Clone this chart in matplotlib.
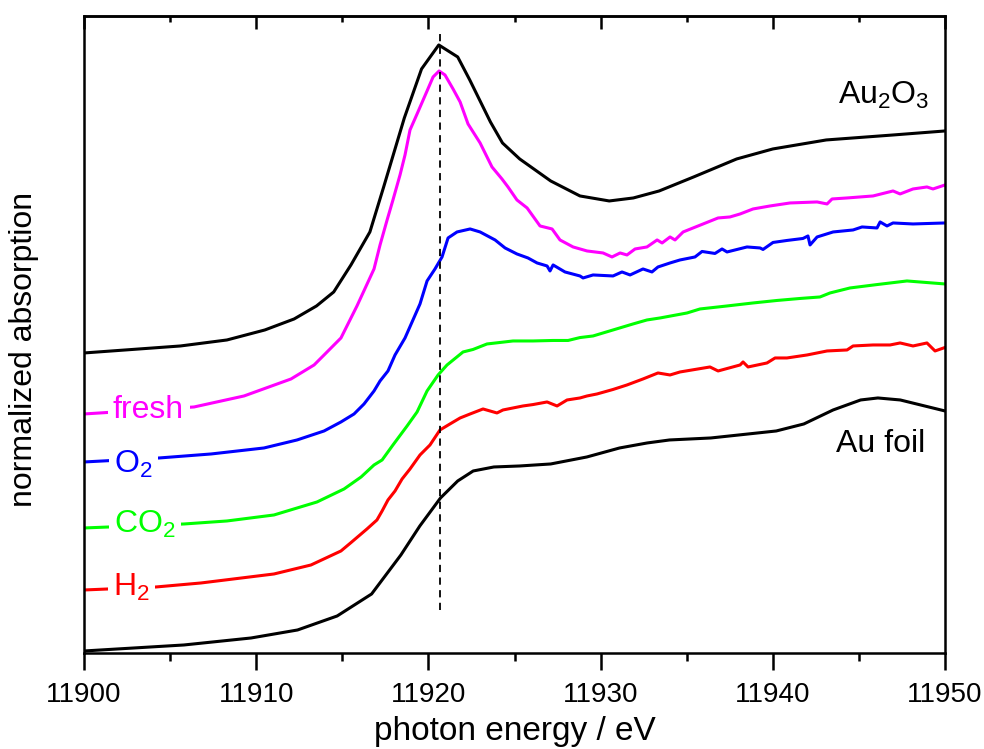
import matplotlib
matplotlib.use("Agg")
import matplotlib.pyplot as plt
from matplotlib.ticker import MultipleLocator

plt.rcParams['font.family'] = ['Liberation Sans', 'DejaVu Sans']
plt.rcParams['mathtext.fontset'] = 'custom'
plt.rcParams['mathtext.rm'] = 'Liberation Sans'
plt.rcParams['mathtext.it'] = 'Liberation Sans'
plt.rcParams['mathtext.default'] = 'regular'

# Au L3-edge XANES, stacked (vertically offset)
e_au2o3 = [11900.0, 11905.6, 11908.3, 11910.5, 11912.2, 11913.5, 11914.5, 11915.5, 11916.6,
           11917.4, 11918.6, 11919.6, 11920.6, 11921.7, 11922.4, 11923.6, 11924.3, 11925.3,
           11927.1, 11928.8, 11930.5, 11931.9, 11933.4, 11935.4, 11937.9, 11940.0, 11943.1,
           11947.0, 11950.0]
mu_au2o3 = [3.00, 3.07, 3.13, 3.23, 3.34, 3.47, 3.61, 3.88, 4.21,
            4.66, 5.35, 5.84, 6.08, 5.96, 5.73, 5.31, 5.10, 4.94,
            4.72, 4.57, 4.52, 4.55, 4.62, 4.76, 4.94, 5.04, 5.13,
            5.18, 5.22]

e_foil = [11900.0, 11905.8, 11909.7, 11912.4, 11914.7, 11916.7, 11918.4, 11919.5, 11920.7,
          11921.7, 11922.6, 11923.8, 11925.3, 11927.1, 11929.2, 11931.1, 11932.7, 11934.0,
          11936.4, 11940.2, 11941.8, 11943.5, 11945.1, 11946.1, 11947.4, 11950.0]
mu_foil = [0.02, 0.08, 0.15, 0.23, 0.37, 0.59, 0.98, 1.27, 1.55,
           1.72, 1.82, 1.86, 1.87, 1.89, 1.96, 2.05, 2.10, 2.13,
           2.15, 2.22, 2.29, 2.43, 2.53, 2.55, 2.53, 2.42]

e_fresh = [11900.0, 11906.39, 11909.29, 11912.02, 11913.36, 11913.94, 11914.92, 11915.85,
           11916.84, 11917.19, 11917.60, 11917.94, 11918.35, 11918.64, 11918.93, 11919.34,
           11919.92, 11920.27, 11920.62, 11920.96, 11921.43, 11921.84, 11922.30, 11923.00,
           11923.69, 11924.27, 11924.62, 11925.14, 11925.73, 11926.48, 11927.18, 11927.64,
           11928.40, 11929.21, 11930.14, 11930.66, 11931.13, 11931.53, 11932.00, 11932.69,
           11933.28, 11933.57, 11934.03, 11934.32, 11934.79, 11935.95, 11936.82, 11937.51,
           11938.10, 11938.85, 11939.84, 11941.00, 11942.57, 11943.15, 11943.44, 11944.31,
           11945.82, 11946.98, 11947.39, 11948.14, 11948.95, 11949.30, 11950.00]
mu_fresh = [2.39, 2.46, 2.57, 2.74, 2.88, 2.98, 3.15, 3.47,
            3.84, 4.08, 4.33, 4.53, 4.78, 4.98, 5.23, 5.39,
            5.62, 5.76, 5.82, 5.78, 5.64, 5.51, 5.29, 5.10,
            4.86, 4.74, 4.66, 4.53, 4.45, 4.27, 4.24, 4.13,
            4.06, 4.02, 4.00, 3.96, 4.00, 3.98, 4.04, 4.06,
            4.13, 4.10, 4.16, 4.13, 4.21, 4.29, 4.35, 4.36,
            4.39, 4.44, 4.47, 4.50, 4.51, 4.49, 4.54, 4.55,
            4.57, 4.62, 4.59, 4.64, 4.66, 4.64, 4.68]

e_o2 = [11900.0, 11904.36, 11907.38, 11910.45, 11912.37, 11913.94, 11914.92, 11915.68,
        11916.26, 11916.84, 11917.19, 11917.65, 11918.06, 11918.64, 11919.05, 11919.51,
        11919.92, 11920.38, 11920.79, 11921.14, 11921.66, 11922.42, 11923.00, 11923.87,
        11924.45, 11925.14, 11925.78, 11926.31, 11926.89, 11927.06, 11927.24, 11927.93,
        11928.80, 11928.98, 11929.56, 11930.72, 11931.24, 11931.71, 11932.46, 11932.98,
        11933.33, 11934.03, 11934.61, 11935.48, 11935.89, 11936.64, 11937.05, 11937.34,
        11938.50, 11939.26, 11939.43, 11940.01, 11940.82, 11941.75, 11942.04, 11942.16,
        11942.57, 11943.50, 11944.66, 11945.18, 11946.05, 11946.23, 11946.63, 11946.98,
        11948.14, 11950.00]
mu_o2 = [1.91, 1.95, 1.99, 2.05, 2.13, 2.22, 2.31, 2.39,
         2.49, 2.62, 2.72, 2.82, 2.98, 3.15, 3.31, 3.49,
         3.72, 3.84, 3.96, 4.15, 4.21, 4.24, 4.21, 4.13,
         4.05, 3.99, 3.95, 3.90, 3.87, 3.82, 3.88, 3.81,
         3.77, 3.75, 3.78, 3.77, 3.81, 3.78, 3.84, 3.81,
         3.86, 3.90, 3.93, 3.96, 4.015, 3.995, 4.04, 4.01,
         4.06, 4.05, 4.035, 4.105, 4.125, 4.145, 4.17, 4.08,
         4.16, 4.21, 4.23, 4.26, 4.25, 4.31, 4.27, 4.30,
         4.29, 4.30]

e_co2 = [11900.0, 11905.81, 11908.30, 11911.03, 11913.53, 11915.10, 11916.09, 11916.84,
         11917.31, 11917.94, 11918.76, 11919.34, 11919.92, 11920.56, 11921.08, 11922.01,
         11922.59, 11923.40, 11924.16, 11924.91, 11926.07, 11927.24, 11928.11, 11928.80,
         11929.56, 11930.72, 11931.88, 11932.69, 11933.45, 11935.02, 11935.77, 11937.34,
         11938.85, 11940.24, 11941.58, 11942.74, 11943.32, 11944.48, 11946.05, 11947.79,
         11950.00]
mu_co2 = [1.25, 1.29, 1.32, 1.38, 1.51, 1.64, 1.76, 1.88,
          1.93, 2.08, 2.27, 2.41, 2.62, 2.78, 2.88, 3.01,
          3.035, 3.09, 3.105, 3.12, 3.12, 3.125, 3.125, 3.154,
          3.17, 3.23, 3.29, 3.33, 3.35, 3.40, 3.44, 3.47,
          3.50, 3.525, 3.545, 3.56, 3.60, 3.65, 3.684, 3.72,
          3.69]

e_h2 = [11900.0, 11904.18, 11906.79, 11911.03, 11913.18, 11914.92, 11915.51, 11916.43,
        11917.01, 11917.31, 11917.65, 11918.06, 11918.47, 11918.93, 11919.51, 11920.09,
        11920.67, 11921.25, 11921.84, 11922.42, 11923.17, 11923.98, 11924.33, 11924.91,
        11925.49, 11926.07, 11926.89, 11927.47, 11928.05, 11928.80, 11929.21, 11929.79,
        11930.72, 11931.53, 11932.46, 11933.33, 11934.03, 11934.61, 11936.35, 11936.82,
        11938.10, 11938.27, 11938.56, 11939.66, 11940.13, 11940.82, 11941.99, 11943.15,
        11944.31, 11944.66, 11945.82, 11946.81, 11947.39, 11948.14, 11948.95, 11949.42,
        11950.00]
mu_h2 = [0.63, 0.66, 0.70, 0.79, 0.88, 1.02, 1.105, 1.24,
         1.33, 1.42, 1.53, 1.62, 1.74, 1.84, 1.98, 2.08,
         2.23, 2.29, 2.35, 2.39, 2.44, 2.40, 2.43, 2.45,
         2.47, 2.484, 2.51, 2.47, 2.53, 2.55, 2.57, 2.59,
         2.635, 2.68, 2.74, 2.80, 2.78, 2.81, 2.86, 2.82,
         2.88, 2.91, 2.86, 2.90, 2.95, 2.95, 2.98, 3.02,
         3.03, 3.07, 3.08, 3.08, 3.10, 3.07, 3.10, 3.02,
         3.055]

e_white_line = 11920.7

fig = plt.figure(figsize=(9.84, 7.49), dpi=100)
ax = fig.add_axes([0.0854, 0.1282, 0.875, 0.8505])

lw = 2.2
ax.plot(e_au2o3, mu_au2o3, color='black', lw=lw, zorder=2)
ax.plot(e_fresh, mu_fresh, color='#ff00ff', lw=lw, zorder=2)
ax.plot(e_o2, mu_o2, color='#0000ff', lw=lw, zorder=2)
ax.plot(e_co2, mu_co2, color='#00ff00', lw=lw, zorder=2)
ax.plot(e_h2, mu_h2, color='#ff0000', lw=lw, zorder=2)
ax.plot(e_foil, mu_foil, color='black', lw=lw, zorder=2)

ax.vlines(e_white_line, 0.43, 6.21, colors='black', lw=1.3,
          linestyles=(0, (4, 3)), zorder=3)

# sample labels sit on a white patch that breaks the curve
box = dict(facecolor='white', edgecolor='none', pad=4)
fs = 23
ax.text(11901.68, 2.35, 'fresh', color='#ff00ff', fontsize=fs, bbox=box, zorder=4)
ax.text(11901.74, 1.80, 'O$_2$', color='#0000ff', fontsize=fs, bbox=box, zorder=4)
ax.text(11901.74, 1.20, 'CO$_2$', color='#00ff00', fontsize=fs, bbox=box, zorder=4)
ax.text(11901.68, 0.57, 'H$_2$', color='#ff0000', fontsize=fs, bbox=box, zorder=4)
ax.text(11943.79, 5.49, 'Au$_2$O$_3$', color='black', fontsize=fs, zorder=4)
ax.text(11943.67, 2.01, 'Au foil', color='black', fontsize=fs, zorder=4)

ax.set_xlim(11900, 11950)
ax.set_ylim(0, 6.37)
ax.set_yticks([])

# top axis: ticks pointing in, no labels
top = ax.secondary_xaxis('top')
top.xaxis.set_major_locator(MultipleLocator(10))
top.xaxis.set_minor_locator(MultipleLocator(5))
top.tick_params(which='major', direction='in', length=9, width=1.8, labeltop=False)
top.tick_params(which='minor', direction='in', length=4.5, width=1.8)
top.spines['top'].set_linewidth(1.8)

ax.xaxis.set_ticks_position('bottom')
ax.xaxis.set_major_locator(MultipleLocator(10))
ax.xaxis.set_minor_locator(MultipleLocator(5))
ax.tick_params(axis='x', which='major', direction='out', length=12, width=1.8,
               labelsize=20, pad=9)
ax.tick_params(axis='x', which='minor', direction='out', length=6, width=1.8)

for s in ax.spines.values():
    s.set_linewidth(1.8)

ax.set_xlabel('photon energy / eV', fontsize=24, labelpad=6)
ax.set_ylabel('normalized absorption', fontsize=23)
ax.yaxis.set_label_coords(-0.052, 0.476)

fig.savefig('out.png', dpi=100)
